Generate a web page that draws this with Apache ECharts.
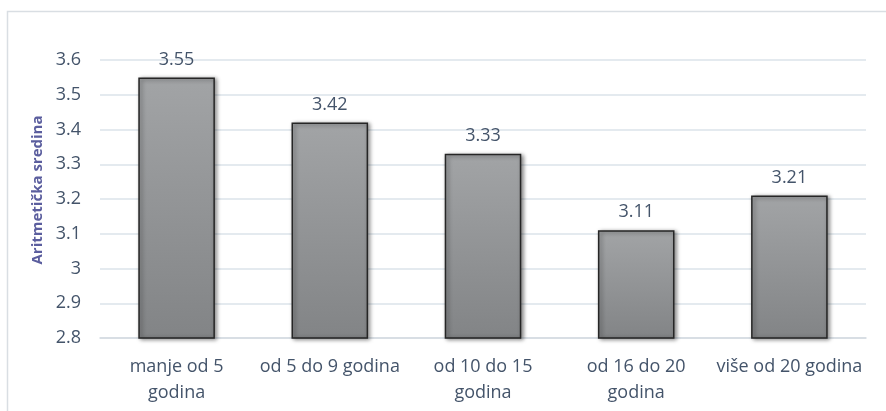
<!DOCTYPE html>
<html>
<head>
<meta charset="utf-8">
<script src="https://cdn.jsdelivr.net/npm/echarts@6/dist/echarts.min.js"></script>
<style>
  html, body { margin: 0; padding: 0; background: #fff; }
  #chart { width: 886px; height: 411px; }
</style>
</head>
<body>
<div id="chart"></div>
<script>
// categories and means
const categories = ['manje od 5\ngodina', 'od 5 do 9 godina', 'od 10 do 15\ngodina', 'od 16 do 20\ngodina', 'više od 20 godina'];
const means = [3.55, 3.42, 3.33, 3.11, 3.21];
const axisTitle = 'Aritmetička sredina';

const textColor = '#44546a';
const fontFamily = '"Open Sans", Lato, sans-serif';

const chart = echarts.init(document.getElementById('chart'));

chart.setOption({
    animation: false,
    textStyle: { fontFamily: fontFamily },
    graphic: [{
        type: 'rect',
        shape: { x: 7.5, y: 11.5, width: 890, height: 410 },
        style: { fill: 'none', stroke: '#d9dee3', lineWidth: 1.5 },
        silent: true
    }],
    grid: { left: 100, right: 20, top: 60, bottom: 73 },
    xAxis: {
        type: 'category',
        data: categories,
        axisTick: { show: false },
        axisLine: { lineStyle: { color: '#d3dae1', width: 1.5 } },
        axisLabel: {
            color: textColor, fontSize: 18, lineHeight: 26, margin: 16,
            interval: 0, fontFamily: fontFamily
        }
    },
    yAxis: {
        type: 'value',
        min: 2.8,
        max: 3.6,
        interval: 0.1,
        name: axisTitle,
        nameLocation: 'middle',
        nameGap: 49,
        nameTextStyle: {
            color: '#5b5e9e', fontSize: 15, fontWeight: 'bold', fontFamily: fontFamily,
            padding: [0, 0, 0, 18]
        },
        axisLine: { show: false },
        axisTick: { show: false },
        axisLabel: {
            color: textColor, fontSize: 18, margin: 19,
            formatter: v => String(Math.round(v * 10) / 10)
        },
        splitLine: { lineStyle: { color: '#dbe3ea', width: 1.5 } }
    },
    series: [{
        type: 'bar',
        data: means,
        barWidth: '50%',
        itemStyle: {
            color: new echarts.graphic.LinearGradient(0, 0, 0, 1, [
                { offset: 0, color: '#a2a4a6' },
                { offset: 1, color: '#828486' }
            ]),
            borderColor: '#262626',
            borderWidth: 1.5,
            shadowBlur: 4,
            shadowOffsetX: 2,
            shadowOffsetY: 1,
            shadowColor: 'rgba(0,0,0,0.45)'
        },
        label: {
            show: true,
            position: 'top',
            distance: 9,
            color: textColor,
            fontSize: 18,
            fontFamily: fontFamily
        }
    }]
});
</script>
</body>
</html>
